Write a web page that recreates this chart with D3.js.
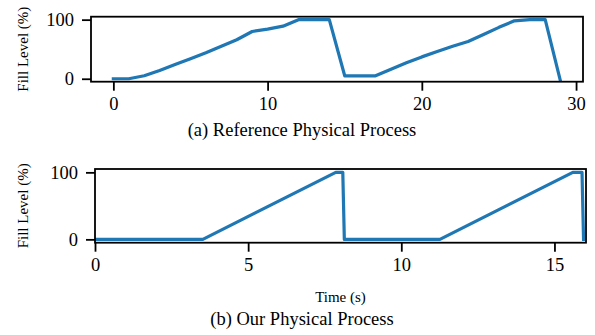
<!DOCTYPE html>
<html>
<head>
<meta charset="utf-8">
<script src="https://cdn.jsdelivr.net/npm/d3@7"></script>
<style>
  html, body { margin: 0; padding: 0; background: #fff; }
  svg { display: block; font-family: "Liberation Serif", "Times New Roman", serif; }
  svg text { font-family: "Liberation Serif", "Times New Roman", serif; }
</style>
</head>
<body>
<svg id="fig" width="595" height="335"></svg>
<script>
// (a) reference process: one sample per second
const refTime = [0,1,2,3,4,5,6,7,8,9,10,11,12,13,14,15,16,17,18,19,20,21,22,23,24,25,26,27,28,29];
const refFill = [0,0,5,14,24,34,44,55,66,80,84,89,100,100,100,5,5,5,16,27,37,46,55,63,75,87,98,100,100,-5];

// (b) our process: breakpoints of the simulated fill level
const ourTime = [0, 3.52, 7.86, 8.09, 8.14, 11.26, 15.6, 15.9, 15.95];
const ourFill = [0, 0, 100, 100, 0, 0, 100, 100, 0];

const refTicksX = [0, 10, 20, 30];
const ourTicksX = [0, 5, 10, 15];
const ticksY = [0, 100];

const captions = ["(a) Reference Physical Process", "(b) Our Physical Process"];
const yLabel = "Fill Level (%)";
const xLabel = "Time (s)";

const svg = d3.select("#fig");
const LINE = "#1f77b4";

function panel(cfg) {
  const { left, right, top, bottom, xDomain, xs, ys, xticks, id } = cfg;
  const x = d3.scaleLinear().domain(xDomain).range([left, right]);
  const y = d3.scaleLinear().domain([-5, 105]).range([bottom, top]);

  svg.append("clipPath").attr("id", id)
    .append("rect").attr("x", left).attr("y", top)
    .attr("width", right - left).attr("height", bottom - top);

  const line = d3.line().x(d => x(d[0])).y(d => y(d[1]));
  svg.append("path")
    .datum(xs.map((t, i) => [t, ys[i]]))
    .attr("clip-path", `url(#${id})`)
    .attr("d", line)
    .attr("fill", "none")
    .attr("stroke", LINE)
    .attr("stroke-width", 3.2)
    .attr("stroke-linejoin", "round")
    .attr("stroke-linecap", "square");

  // x axis
  const gx = svg.append("g").attr("transform", `translate(0,${bottom})`)
    .call(d3.axisBottom(x).tickValues(xticks).tickFormat(d3.format("d")).tickSize(9).tickPadding(6))
    .attr("font-family", null).attr("font-size", null);
  gx.select(".domain").remove();
  gx.selectAll(".tick line").attr("stroke", "#000").attr("stroke-width", 1.8);
  gx.selectAll(".tick text").attr("font-size", 18.5).attr("fill", "#000").attr("dy", "0.71em");

  // y axis
  const gy = svg.append("g").attr("transform", `translate(${left},0)`)
    .call(d3.axisLeft(y).tickValues(ticksY).tickFormat(d3.format("d")).tickSize(9).tickPadding(8))
    .attr("font-family", null).attr("font-size", null);
  gy.select(".domain").remove();
  gy.selectAll(".tick line").attr("stroke", "#000").attr("stroke-width", 1.8);
  gy.selectAll(".tick text").attr("font-size", 18.5).attr("fill", "#000");

  // frame
  svg.append("rect").attr("x", left).attr("y", top)
    .attr("width", right - left).attr("height", bottom - top)
    .attr("fill", "none").attr("stroke", "#000").attr("stroke-width", 1.8);

  svg.append("text")
    .attr("transform", `translate(25,${(top + bottom) / 2}) rotate(-90)`)
    .attr("text-anchor", "middle").attr("dominant-baseline", "middle")
    .attr("font-size", 15).text(yLabel);

  return x;
}

panel({ id: "clipA", left: 91, right: 583, top: 16.7, bottom: 81.7,
        xDomain: [-1.45, 30.45], xs: refTime, ys: refFill, xticks: refTicksX });
svg.append("text").attr("x", 302).attr("y", 136).attr("text-anchor", "middle")
  .attr("font-size", 18.5).text(captions[0]);

panel({ id: "clipB", left: 95, right: 586, top: 169, bottom: 242.7,
        xDomain: [0, 16.03], xs: ourTime, ys: ourFill, xticks: ourTicksX });
svg.append("text").attr("x", 340.5).attr("y", 302).attr("text-anchor", "middle")
  .attr("font-size", 15).text(xLabel);
svg.append("text").attr("x", 302).attr("y", 325).attr("text-anchor", "middle")
  .attr("font-size", 18.5).text(captions[1]);
</script>
</body>
</html>
